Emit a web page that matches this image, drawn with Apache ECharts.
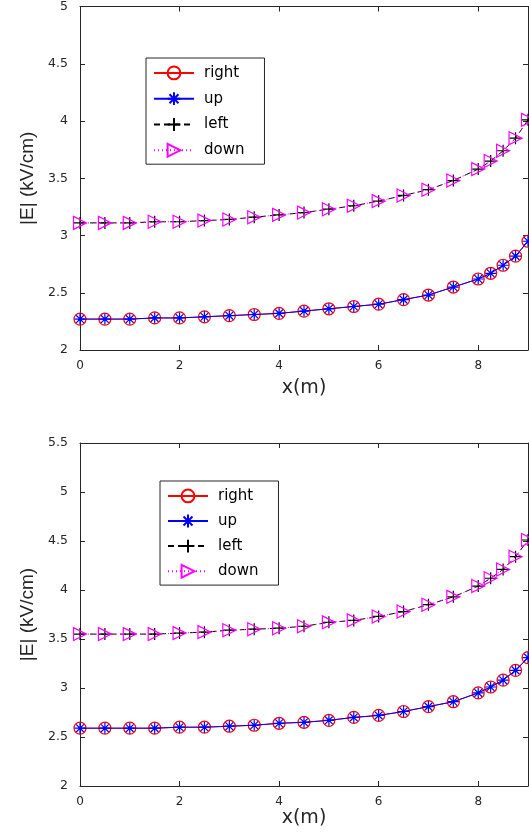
<!DOCTYPE html>
<html>
<head>
<meta charset="utf-8">
<script src="https://cdn.jsdelivr.net/npm/echarts@6/dist/echarts.min.js"></script>
<style>
  html, body { margin: 0; padding: 0; background: #fff; }
  #chart { width: 529px; height: 840px; }
</style>
</head>
<body>
<div id="chart"></div>
<script>
// x positions (m)
const xs = [0, 0.5, 1, 1.5, 2, 2.5, 3, 3.5, 4, 4.5, 5, 5.5, 6, 6.5, 7, 7.5, 8, 8.25, 8.5, 8.75, 9];

// top panel |E| (kV/cm)
const rightTop = [2.27, 2.27, 2.27, 2.28, 2.28, 2.29, 2.30, 2.31, 2.32, 2.34, 2.36, 2.38, 2.40, 2.44, 2.48, 2.55, 2.62, 2.67, 2.74, 2.82, 2.95];
const upTop    = [2.27, 2.27, 2.27, 2.28, 2.28, 2.29, 2.30, 2.31, 2.32, 2.34, 2.36, 2.38, 2.40, 2.44, 2.48, 2.55, 2.62, 2.67, 2.74, 2.82, 2.95];
const leftTop  = [3.11, 3.11, 3.11, 3.12, 3.12, 3.13, 3.14, 3.16, 3.18, 3.20, 3.23, 3.26, 3.30, 3.35, 3.40, 3.48, 3.58, 3.65, 3.74, 3.85, 4.01];
const downTop  = [3.11, 3.11, 3.11, 3.12, 3.12, 3.13, 3.14, 3.16, 3.18, 3.20, 3.23, 3.26, 3.30, 3.35, 3.40, 3.48, 3.58, 3.65, 3.74, 3.85, 4.01];

// bottom panel |E| (kV/cm)
const rightBot = [2.59, 2.59, 2.59, 2.59, 2.60, 2.60, 2.61, 2.62, 2.64, 2.65, 2.67, 2.70, 2.72, 2.76, 2.81, 2.86, 2.95, 3.01, 3.08, 3.18, 3.31];
const upBot    = [2.59, 2.59, 2.59, 2.59, 2.60, 2.60, 2.61, 2.62, 2.64, 2.65, 2.67, 2.70, 2.72, 2.76, 2.81, 2.86, 2.95, 3.01, 3.08, 3.18, 3.31];
const leftBot  = [3.55, 3.55, 3.55, 3.55, 3.56, 3.57, 3.59, 3.60, 3.61, 3.63, 3.67, 3.69, 3.73, 3.78, 3.85, 3.93, 4.04, 4.12, 4.21, 4.34, 4.51];
const downBot  = [3.55, 3.55, 3.55, 3.55, 3.56, 3.57, 3.59, 3.60, 3.61, 3.63, 3.67, 3.69, 3.73, 3.78, 3.85, 3.93, 4.04, 4.12, 4.21, 4.34, 4.51];

const names = ["right", "up", "left", "down"];
const yRanges = [[2, 5], [2, 5.5]];

const FONT = "DejaVu Sans";
const AX = "#262626";

const ASTERISK = "path://M0,-1L0,1M-1,0L1,0M-0.7,-0.7L0.7,0.7M-0.7,0.7L0.7,-0.7";
const PLUS = "path://M0,-1L0,1M-1,0L1,0";
const TRI = "path://M-0.87,-1L0.87,0L-0.87,1Z";

const styles = {
  right: { symbol: "circle", size: 12, color: "#ff0000", type: "solid" },
  up: { symbol: ASTERISK, size: 11, color: "#0000ff", type: "solid" },
  left: { symbol: PLUS, size: 12, color: "#000000", type: [6, 4] },
  down: { symbol: TRI, size: 13, color: "#ff00ff", type: [1, 3] },
};

const pair = (ys) => xs.map((x, i) => [x, ys[i]]);
const panels = [
  [rightTop, upTop, leftTop, downTop],
  [rightBot, upBot, leftBot, downBot],
];

const grids = [
  { left: 80, top: 6, width: 448, height: 344 },
  { left: 80, top: 443, width: 448, height: 343 },
];
const xNameGaps = [29, 19];

const xAxes = [];
const yAxes = [];
grids.forEach((g, gi) => {
  xAxes.push({
    type: "value", gridIndex: gi, min: 0, max: 9, interval: 2,
    name: "x(m)", nameLocation: "middle", nameGap: xNameGaps[gi],
    nameTextStyle: { fontFamily: FONT, fontSize: 19, color: AX },
    axisLine: { lineStyle: { color: AX, width: 1 } },
    axisTick: { inside: true, length: 5, lineStyle: { color: AX } },
    axisLabel: { fontFamily: FONT, fontSize: 12, color: AX, margin: 10, showMaxLabel: false },
    splitLine: { show: false },
  });
  xAxes.push({
    type: "value", gridIndex: gi, position: "top", min: 0, max: 9, interval: 2,
    axisLine: { onZero: false, lineStyle: { color: AX, width: 1 } },
    axisTick: { inside: true, length: 5, lineStyle: { color: AX } },
    axisLabel: { show: false },
    splitLine: { show: false },
  });
  yAxes.push({
    type: "value", gridIndex: gi, min: yRanges[gi][0], max: yRanges[gi][1], interval: 0.5,
    name: "|E| (kV/cm)", nameLocation: "middle", nameGap: 43,
    nameTextStyle: { fontFamily: "Liberation Sans", fontSize: 19, color: AX },
    axisLine: { show: true, lineStyle: { color: AX, width: 1 } },
    axisTick: { show: true, inside: true, length: 5, lineStyle: { color: AX } },
    axisLabel: { fontFamily: FONT, fontSize: 12.5, color: AX, margin: 12 },
    splitLine: { show: false },
  });
  yAxes.push({
    type: "value", gridIndex: gi, position: "right", min: yRanges[gi][0], max: yRanges[gi][1], interval: 0.5,
    axisLine: { show: true, onZero: false, lineStyle: { color: AX, width: 1 } },
    axisTick: { show: true, inside: true, length: 5, lineStyle: { color: AX } },
    axisLabel: { show: false },
    splitLine: { show: false },
  });
});

const series = [];
panels.forEach((arrs, gi) => {
  arrs.forEach((ys, si) => {
    const s = styles[names[si]];
    series.push({
      type: "line", name: names[si], xAxisIndex: gi * 2, yAxisIndex: gi * 2,
      data: pair(ys),
      symbol: s.symbol, symbolSize: s.size,
      showAllSymbol: true,
      lineStyle: { color: s.color, width: 1, type: s.type },
      itemStyle: { color: "none", borderColor: s.color, borderWidth: 1.2 },
      emphasis: { disabled: true },
      animation: false,
      z: 2 + si,
    });
  });
});

const legendBase = {
  orient: "vertical", data: names,
  itemWidth: 40, itemHeight: 16, itemGap: 8,
  padding: [6, 20, 5, 7],
  borderColor: AX, borderWidth: 1, backgroundColor: "#fff",
  textStyle: { fontFamily: FONT, fontSize: 15, color: "#000", padding: [0, 0, 0, 5] },
  selectedMode: false,
};

const chart = echarts.init(document.getElementById("chart"), null, { renderer: "canvas" });
chart.setOption({
  animation: false,
  backgroundColor: "#fff",
  grid: grids,
  xAxis: xAxes,
  yAxis: yAxes,
  legend: [
    Object.assign({}, legendBase, { left: 146, top: 58 }),
    Object.assign({}, legendBase, { left: 160, top: 481, itemGap: 7.3 }),
  ],
  series: series,
});
</script>
</body>
</html>
